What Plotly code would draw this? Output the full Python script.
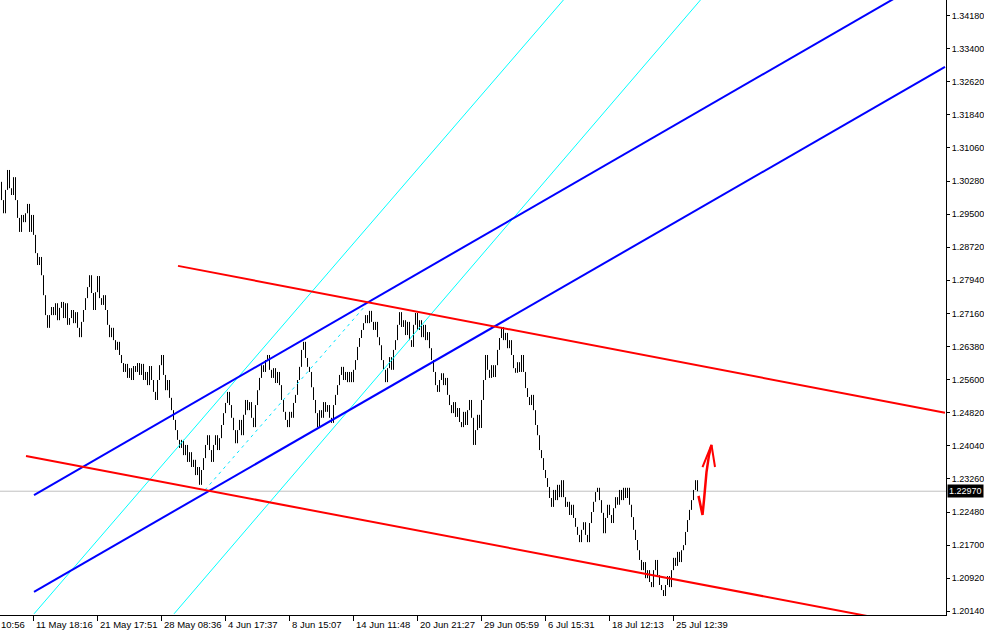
import plotly.graph_objects as go

# ---------------- data ----------------
first_open = 1.3026
bar_close = [
    1.2983, 1.2952, 1.3007, 1.3054, 1.3011, 1.2995, 1.3037, 1.2983, 1.2941, 1.2908,
    1.2948, 1.2931, 1.2952, 1.2974, 1.2908, 1.2948, 1.2901, 1.2858, 1.2830, 1.2849,
    1.2806, 1.2759, 1.2712, 1.2682, 1.2712, 1.2731, 1.2712, 1.2740, 1.2700, 1.2729,
    1.2743, 1.2705, 1.2740, 1.2689, 1.2705, 1.2724, 1.2693, 1.2719, 1.2682, 1.2660,
    1.2696, 1.2724, 1.2752, 1.2778, 1.2806, 1.2764, 1.2724, 1.2766, 1.2804, 1.2752,
    1.2736, 1.2759, 1.2724, 1.2689, 1.2660, 1.2682, 1.2653, 1.2630, 1.2649, 1.2618,
    1.2599, 1.2578, 1.2597, 1.2564, 1.2587, 1.2559, 1.2592, 1.2578, 1.2599, 1.2571,
    1.2597, 1.2559, 1.2578, 1.2547, 1.2592, 1.2559, 1.2531, 1.2512, 1.2559, 1.2594,
    1.2618, 1.2571, 1.2535, 1.2559, 1.2517, 1.2488, 1.2465, 1.2441, 1.2418, 1.2399,
    1.2418, 1.2382, 1.2406, 1.2366, 1.2389, 1.2354, 1.2371, 1.2335, 1.2354, 1.2312,
    1.2347, 1.2375, 1.2406, 1.2429, 1.2394, 1.2366, 1.2406, 1.2429, 1.2394, 1.2422,
    1.2453, 1.2481, 1.2505, 1.2531, 1.2500, 1.2470, 1.2441, 1.2410, 1.2441, 1.2465,
    1.2429, 1.2477, 1.2512, 1.2488, 1.2507, 1.2470, 1.2448, 1.2500, 1.2535, 1.2564,
    1.2594, 1.2578, 1.2606, 1.2618, 1.2583, 1.2564, 1.2587, 1.2552, 1.2578, 1.2547,
    1.2512, 1.2484, 1.2465, 1.2448, 1.2484, 1.2470, 1.2505, 1.2524, 1.2559, 1.2590,
    1.2630, 1.2649, 1.2611, 1.2590, 1.2578, 1.2542, 1.2512, 1.2481, 1.2448, 1.2488,
    1.2470, 1.2507, 1.2484, 1.2500, 1.2470, 1.2458, 1.2500, 1.2524, 1.2547, 1.2571,
    1.2590, 1.2559, 1.2578, 1.2554, 1.2578, 1.2554, 1.2583, 1.2606, 1.2637, 1.2658,
    1.2677, 1.2693, 1.2712, 1.2693, 1.2722, 1.2696, 1.2677, 1.2696, 1.2660, 1.2641,
    1.2606, 1.2583, 1.2554, 1.2587, 1.2613, 1.2583, 1.2630, 1.2653, 1.2689, 1.2719,
    1.2684, 1.2700, 1.2665, 1.2696, 1.2653, 1.2637, 1.2689, 1.2717, 1.2677, 1.2700,
    1.2660, 1.2689, 1.2653, 1.2672, 1.2634, 1.2606, 1.2578, 1.2547, 1.2531, 1.2559,
    1.2575, 1.2547, 1.2564, 1.2524, 1.2500, 1.2481, 1.2507, 1.2472, 1.2493, 1.2460,
    1.2448, 1.2484, 1.2453, 1.2488, 1.2512, 1.2470, 1.2406, 1.2441, 1.2477, 1.2446,
    1.2512, 1.2559, 1.2618, 1.2583, 1.2564, 1.2594, 1.2566, 1.2594, 1.2630, 1.2658,
    1.2684, 1.2653, 1.2670, 1.2634, 1.2653, 1.2618, 1.2587, 1.2576, 1.2601, 1.2578,
    1.2618, 1.2578, 1.2540, 1.2519, 1.2500, 1.2524, 1.2488, 1.2453, 1.2429, 1.2394,
    1.2375, 1.2347, 1.2328, 1.2307, 1.2281, 1.2260, 1.2300, 1.2276, 1.2312, 1.2283,
    1.2323, 1.2283, 1.2260, 1.2272, 1.2241, 1.2265, 1.2234, 1.2213, 1.2194, 1.2177,
    1.2206, 1.2224, 1.2194, 1.2177, 1.2222, 1.2248, 1.2272, 1.2295, 1.2305, 1.2276,
    1.2246, 1.2198, 1.2234, 1.2265, 1.2241, 1.2222, 1.2257, 1.2283, 1.2265, 1.2300,
    1.2276, 1.2305, 1.2281, 1.2305, 1.2265, 1.2236, 1.2206, 1.2182, 1.2158, 1.2135,
    1.2111, 1.2130, 1.2092, 1.2111, 1.2083, 1.2071, 1.2111, 1.2135, 1.2099, 1.2076,
    1.2064, 1.2050, 1.2076, 1.2097, 1.2071, 1.2111, 1.2140, 1.2121, 1.2154, 1.2130,
    1.2158, 1.2170, 1.2201, 1.2229, 1.2253, 1.2276, 1.2300, 1.2323, 1.2297,
]
current_price = 1.2297

tick_bars = [16, 48, 80, 112, 144, 176, 208, 240, 272, 304, 336]
tick_labels = ["11 May 18:16", "21 May 17:51", "28 May 08:36", "4 Jun 17:37",
               "8 Jun 15:07", "14 Jun 11:48", "20 Jun 21:27", "29 Jun 05:59",
               "6 Jul 15:31", "18 Jul 12:13", "25 Jul 12:39"]
first_label = "10:56"

price_ticks = [1.34180, 1.33400, 1.32620, 1.31840, 1.31060, 1.30280, 1.29500,
               1.28720, 1.27940, 1.27160, 1.26380, 1.25600, 1.24820, 1.24040,
               1.23260, 1.22480, 1.21700, 1.20920, 1.20140]

# drawn objects: anchor points (bar index, price)
blue_upper_x = [16.25, 471.75];  blue_upper_y = [1.2288, 1.3527]
blue_lower_x = [16.25, 471.75];  blue_lower_y = [1.2060, 1.3297]
cyan_left_x = [16.25, 285.25];   cyan_left_y = [1.2008, 1.3478]
cyan_right_x = [86.25, 353.75];  cyan_right_y = [1.2008, 1.3478]
cyan_mid_x = [101.75, 182.25];   cyan_mid_y = [1.2300, 1.2736]
red_upper_x = [88.25, 471.75];   red_upper_y = [1.2828, 1.2482]
red_lower_x = [12.25, 471.75];   red_lower_y = [1.2380, 1.1968]
arrow_x = [348.5, 349.5, 350.5, 351.25, 352.5, 353.75, 355.0]
arrow_y = [1.2286, 1.2265, 1.2241, 1.2276, 1.2342, 1.2382, 1.2406]
arrow_head_x = [350.5, 355.0, 356.75]
arrow_head_y = [1.2354, 1.2406, 1.2354]

# ---------------- figure ----------------
opens = [first_open] + bar_close[:-1]
bx, by = [], []
for k, (o, c) in enumerate(zip(opens, bar_close)):
    bx += [k, k, None]
    by += [o, c, None]

fig = go.Figure()
fig.add_trace(go.Scatter(x=[-1, 480], y=[current_price, current_price], mode="lines",
                         line=dict(color="#c0c0c0", width=1), hoverinfo="skip"))
fig.add_trace(go.Scatter(x=bx, y=by, mode="lines", line=dict(color="black", width=1),
                         hoverinfo="skip"))

def seg(x, y, color, width, dash=None):
    fig.add_trace(go.Scatter(x=x, y=y, mode="lines",
                             line=dict(color=color, width=width, dash=dash),
                             hoverinfo="skip"))

seg(cyan_left_x, cyan_left_y, "#00ffff", 1)
seg(cyan_right_x, cyan_right_y, "#00ffff", 1)
seg(cyan_mid_x, cyan_mid_y, "#00e5ff", 1, "3px,4px")
seg(blue_upper_x, blue_upper_y, "#0000ff", 2)
seg(blue_lower_x, blue_lower_y, "#0000ff", 2)
seg(red_upper_x, red_upper_y, "#ff0000", 2)
seg(red_lower_x, red_lower_y, "#ff0000", 2)
seg(arrow_x, arrow_y, "#ff0000", 2.5)
seg(arrow_head_x, arrow_head_y, "#ff0000", 2)

annotations = []
for tb, tl in zip(tick_bars, tick_labels):
    annotations.append(dict(x=tb, y=0, xref="x", yref="paper", text=tl, showarrow=False,
                            xanchor="left", yanchor="top", yshift=-2, xshift=0,
                            font=dict(size=9.5, color="black")))
annotations.append(dict(x=0, y=0, xref="paper", yref="paper", text=first_label,
                        showarrow=False, xanchor="left", yanchor="top", yshift=-2,
                        xshift=-1, font=dict(size=9.5, color="black")))
annotations.append(dict(x=1, y=current_price, xref="paper", yref="y",
                        text="%.5f" % current_price, showarrow=False,
                        xanchor="left", yanchor="middle", xshift=1,
                        bgcolor="black", borderpad=1,
                        font=dict(size=9, color="white")))

fig.update_layout(
    width=984, height=632,
    margin=dict(l=0, r=38, t=0, b=17),
    paper_bgcolor="white", plot_bgcolor="white",
    showlegend=False,
    font=dict(family="Liberation Sans, Arial, sans-serif", size=9, color="black"),
    annotations=annotations,
    xaxis=dict(range=[-0.75, 472.25], showgrid=False, zeroline=False,
               showline=True, linecolor="black", linewidth=1,
               ticks="outside", ticklen=5, tickcolor="black", tickwidth=1,
               tickvals=tick_bars, showticklabels=False, fixedrange=True),
    yaxis=dict(range=[1.200529, 1.345453], side="right", showgrid=False, zeroline=False,
               showline=True, linecolor="black", linewidth=1,
               ticks="outside", ticklen=3, tickcolor="black", tickwidth=1,
               tickvals=price_ticks, ticktext=["%.5f" % v for v in price_ticks],
               tickfont=dict(size=9, color="black"), fixedrange=True),
)

fig.write_html("out.html", config={"displayModeBar": False},
               post_script="document.body.style.margin='0';")
